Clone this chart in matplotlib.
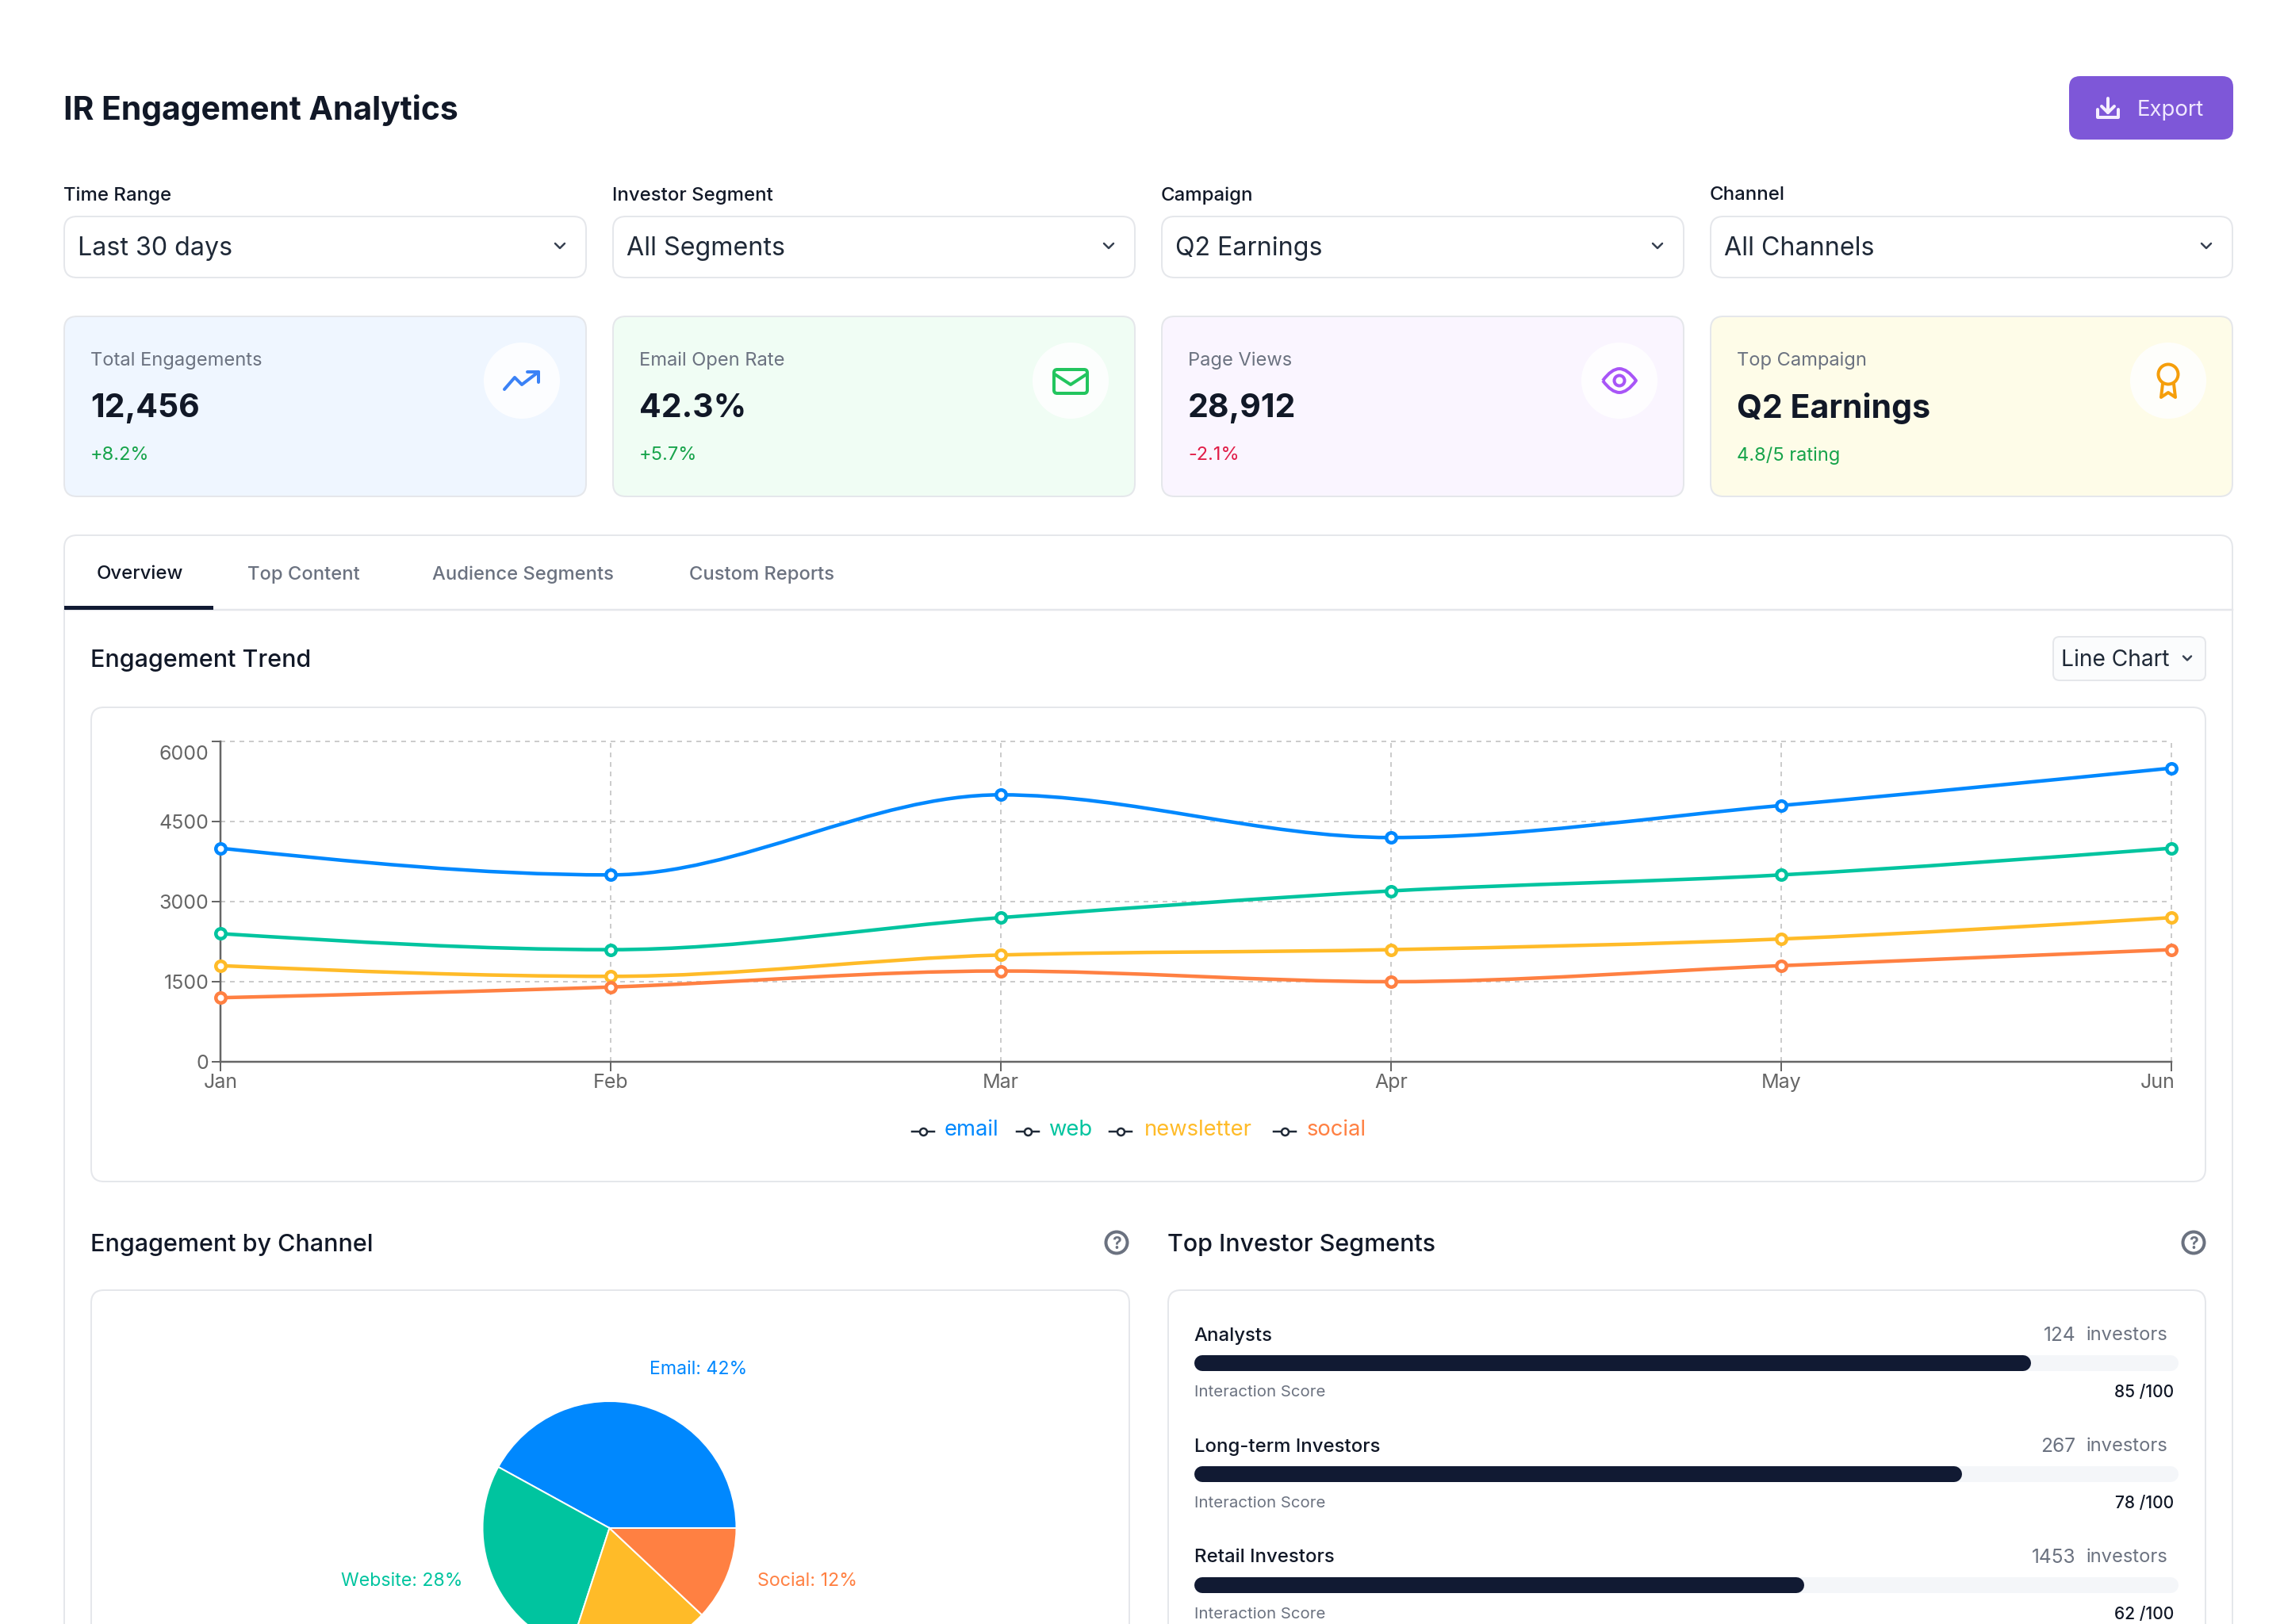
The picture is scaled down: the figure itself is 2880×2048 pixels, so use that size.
"""IR engagement dashboard redrawn with matplotlib. Output: out.png"""
import numpy as np
import matplotlib
matplotlib.use('Agg')
import matplotlib.pyplot as plt
from matplotlib.patches import FancyBboxPatch, Circle, Rectangle, PathPatch
from matplotlib.path import Path
from matplotlib.transforms import ScaledTranslation

plt.rcParams['font.family'] = ['Inter', 'DejaVu Sans']

W, H = 2880, 2048

# ---- data ----
months = ['Jan', 'Feb', 'Mar', 'Apr', 'May', 'Jun']
email = [4000, 3500, 5000, 4200, 4800, 5500]
web = [2400, 2100, 2700, 3200, 3500, 4000]
newsletter = [1800, 1600, 2000, 2100, 2300, 2700]
social = [1200, 1400, 1700, 1500, 1800, 2100]
y_ticks = [0, 1500, 3000, 4500, 6000]

channels = ['Email', 'Website', 'Newsletter', 'Social']
channel_share = [42, 28, 18, 12]

segments = ['Analysts', 'Long-term Investors', 'Retail Investors']
segment_counts = [124, 267, 1453]
segment_scores = [85, 78, 62]

filter_labels = ['Time Range', 'Investor Segment', 'Campaign', 'Channel']
filter_values = ['Last 30 days', 'All Segments', 'Q2 Earnings', 'All Channels']
kpi_labels = ['Total Engagements', 'Email Open Rate', 'Page Views', 'Top Campaign']
kpi_values = ['12,456', '42.3%', '28,912', 'Q2 Earnings']
kpi_notes = ['+8.2%', '+5.7%', '-2.1%', '4.8/5 rating']
tabs = ['Overview', 'Top Content', 'Audience Segments', 'Custom Reports']

BLUE, GREEN, YELLOW, ORANGE = '#0088FE', '#00C49F', '#FFBB28', '#FF8042'
INK = '#111827'
GRAY = '#6b7280'
BORDER = '#e5e7eb'


def pt(px):
    # figure is 100 dpi, so sizes given in pixels go through this
    return px * 0.72


fig = plt.figure(figsize=(W / 100, H / 100), dpi=100, facecolor='white')
ui = fig.add_axes([0, 0, 1, 1])
ui.set_xlim(0, W)
ui.set_ylim(H, 0)
ui.set_axis_off()


def px_axes(left, top, right, bottom):
    a = fig.add_axes([left / W, 1 - bottom / H, (right - left) / W, (bottom - top) / H])
    a.patch.set_alpha(0)
    return a


def box(x0, y0, x1, y1, r=16, fc='white', ec=BORDER, lw=2):
    ui.add_patch(FancyBboxPatch((x0, y0), x1 - x0, y1 - y0, boxstyle=f'round,pad=0,rounding_size={r}',
                                fc=fc, ec=ec, lw=pt(lw)))


def label(x, y, s, px, color=INK, weight=400, ha='left'):
    ui.text(x, y, s, fontsize=pt(px), color=color, fontweight=weight, ha=ha, va='center_baseline')


def stroke(xs, ys, color, lw=4):
    ui.plot(xs, ys, color=color, lw=pt(lw), solid_capstyle='round', solid_joinstyle='round')


def chevron(x, y, color='#374151', size=6):
    stroke([x - size, x, x + size], [y - size / 2, y + size / 2, y - size / 2], color, lw=2.5)


def help_icon(x, y):
    ui.add_patch(Circle((x, y), 13.5, fc='none', ec=GRAY, lw=pt(4)))
    label(x, y, '?', 21, color=GRAY, weight=700, ha='center')


# ---- header ----
label(80, 135, 'IR Engagement Analytics', 40.9, weight=700)
box(2609, 96, 2816, 176, r=14, fc='#7e57d8', ec='#7e57d8', lw=0)
stroke([2658, 2658], [124, 142], '#f5efff', lw=4)
stroke([2650, 2658, 2666], [134, 142, 134], '#f5efff', lw=4)
stroke([2645, 2645, 2671, 2671], [138, 148, 148, 138], '#f5efff', lw=4)
label(2695, 136, 'Export', 27.6, color='#f0e8ff')

# ---- filters and KPI cards ----
col_x = [81, 773, 1465, 2157]
col_w = 658
card_fill = ['#eff6ff', '#f0fdf4', '#faf5ff', '#fefce8']
for i, x in enumerate(col_x):
    label(x - 1, 244, filter_labels[i], 24, weight=500)
    box(x, 273, x + col_w, 350)
    label(x + 17, 310, filter_values[i], 32.2, color='#1f2937')
    chevron(x + 625, 310)

    box(x, 399, x + col_w, 626, fc=card_fill[i])
    label(x + 33, 452.5, kpi_labels[i], 23.7, color=GRAY)
    label(x + 33, 511, kpi_values[i], 41, weight=700)
    note_color = '#e11d48' if kpi_notes[i].startswith('-') else '#16a34a'
    label(x + 33, 572, kpi_notes[i], 23.6, color=note_color)
    ui.add_patch(Circle((x + 577, 480), 48, fc='white', ec='none', alpha=0.85))

# KPI icons
ic = '#3b82f6'
stroke([636, 649, 658, 679], [491, 476, 485, 469], ic)
stroke([665, 679, 679], [469, 469, 482], ic)
ic = '#22c55e'
box(1329, 466, 1371, 496, r=4, fc='none', ec=ic, lw=4)
stroke([1330, 1350, 1370], [472, 485, 472], ic)
ic = '#a855f7'
eye = Path([(2021, 480), (2032, 465), (2042, 465), (2052, 465), (2063, 480),
            (2052, 495), (2042, 495), (2032, 495), (2021, 480)],
           [Path.MOVETO, Path.CURVE3, Path.CURVE3, Path.CURVE3, Path.CURVE3,
            Path.CURVE3, Path.CURVE3, Path.CURVE3, Path.CURVE3])
ui.add_patch(PathPatch(eye, fc='none', ec=ic, lw=pt(4), joinstyle='round'))
ui.add_patch(Circle((2042, 480), 6.5, fc='none', ec=ic, lw=pt(4)))
ic = '#f59e0b'
ui.add_patch(Circle((2734, 472), 12.5, fc='none', ec=ic, lw=pt(4)))
stroke([2727, 2725, 2734, 2743, 2741], [484, 501, 495, 501, 484], ic)

# ---- tabbed panel, runs off the bottom of the picture ----
box(81, 675, 2815, 2200)
ui.plot([81, 2815], [769, 769], color=BORDER, lw=pt(2.5))
ui.add_patch(Rectangle((81, 764), 188, 5, fc='#111a33', ec='none', zorder=3))
tab_x = [122, 312, 545, 869]
for i, x in enumerate(tab_x):
    if i == 0:
        label(x, 721, tabs[i], 24, weight=500)
    else:
        label(x, 722.5, tabs[i], 23.8, color=GRAY, weight=500)

label(114, 830, 'Engagement Trend', 30.4, weight=500)
box(2589, 803, 2781, 858, r=8, fc='#fbfcfd')
label(2599, 830, 'Line Chart', 28.2, color='#1f2937')
chevron(2758, 830, size=5)
box(115, 892, 2781, 1490)


# ---- line chart ----
def monotone_path(xs, ys):
    # same curve the source chart uses (monotone cubic through the points)
    xs, ys = np.asarray(xs, float), np.asarray(ys, float)
    s = np.diff(ys) / np.diff(xs)
    m = np.zeros(len(xs))
    for i in range(1, len(xs) - 1):
        p = (s[i - 1] + s[i]) / 2
        m[i] = (np.sign(s[i - 1]) + np.sign(s[i])) * min(abs(s[i - 1]), abs(s[i]), 0.5 * abs(p))
    m[0] = (3 * s[0] - m[1]) / 2
    m[-1] = (3 * s[-1] - m[-2]) / 2
    verts, codes = [(xs[0], ys[0])], [Path.MOVETO]
    for i in range(len(xs) - 1):
        h = xs[i + 1] - xs[i]
        verts += [(xs[i] + h / 3, ys[i] + m[i] * h / 3),
                  (xs[i + 1] - h / 3, ys[i + 1] - m[i + 1] * h / 3),
                  (xs[i + 1], ys[i + 1])]
        codes += [Path.CURVE4] * 3
    return Path(verts, codes)


ax = px_axes(278, 935, 2738, 1339)
x_idx = np.arange(len(months))
ax.set_xlim(0, 5)
ax.set_ylim(0, 6000)
ax.set_xticks(x_idx, months)
ax.set_yticks(y_ticks)
ax.grid(True, color='#cccccc', lw=pt(2), linestyle=(0, (3, 3)))
ax.set_axisbelow(True)
for line in ax.get_xgridlines() + ax.get_ygridlines():
    line.set_clip_on(False)
ax.spines['top'].set_visible(False)
ax.spines['right'].set_visible(False)
for side in ('left', 'bottom'):
    ax.spines[side].set_color('#666666')
    ax.spines[side].set_linewidth(pt(2.5))
ax.tick_params(axis='x', length=pt(12), width=pt(2), color='#666666', labelcolor='#666666',
               labelsize=pt(25), pad=pt(3))
ax.tick_params(axis='y', length=pt(11), width=pt(2), color='#666666', labelcolor='#666666',
               labelsize=pt(25), pad=pt(3.5))
# first and last labels are pushed inside the chart in the reference
top_label = ax.get_yticklabels()[-1]
top_label.set_transform(top_label.get_transform() + ScaledTranslation(0, -14 / 100, fig.dpi_scale_trans))
end_label = ax.get_xticklabels()[-1]
end_label.set_ha('right')
end_label.set_transform(end_label.get_transform() + ScaledTranslation(4 / 100, 0, fig.dpi_scale_trans))

series = [('email', email, BLUE), ('web', web, GREEN), ('newsletter', newsletter, YELLOW), ('social', social, ORANGE)]
for name, vals, color in series:
    ax.add_patch(PathPatch(monotone_path(x_idx, vals), fc='none', ec=color, lw=pt(4.5), clip_on=False))
    ax.plot(x_idx, vals, ls='none', marker='o', ms=pt(12.5), mfc='white', mec=color, mew=pt(4.5), clip_on=False, zorder=4)

# legend row under the chart
legend_icon_x = [1164, 1296, 1413, 1620]
legend_text_x = [1191, 1322, 1443, 1648]
for i, (name, vals, color) in enumerate(series):
    x = legend_icon_x[i]
    ui.plot([x - 14, x + 14], [1427, 1427], color='#1f2937', lw=pt(2.5))
    ui.plot([x], [1427], marker='o', ms=pt(9), mfc='white', mec='#1f2937', mew=pt(2.5))
    label(legend_text_x[i], 1422, name, 27.4, color=color)

# ---- lower panels ----
label(114, 1567, 'Engagement by Channel', 30.5, weight=500)
label(1472, 1567, 'Top Investor Segments', 30.4, weight=500)
help_icon(1408, 1567)
help_icon(2766, 1567)
box(115, 1627, 1424, 2200)
box(1473, 1627, 2781, 2200)

pie_ax = px_axes(768.5 - 160, 1927 - 160, 768.5 + 160, 1927 + 160)
pie_ax.pie(channel_share, colors=[BLUE, GREEN, YELLOW, ORANGE], radius=1, startangle=0, counterclock=True,
           wedgeprops={'edgecolor': 'white', 'linewidth': pt(2)})
pie_ax.set_xlim(-1, 1)
pie_ax.set_ylim(-1, 1)
label(819, 1724.5, f'{channels[0]}: {channel_share[0]}%', 23.1, color=BLUE)
label(430, 1992, f'{channels[1]}: {channel_share[1]}%', 23.1, color=GREEN)
label(955, 1992, f'{channels[3]}: {channel_share[3]}%', 23.3, color=ORANGE)

# score bars: one row per segment, 140 px apart
bar_ax = px_axes(1506, 1649, 2747, 2069)
bar_ax.set_xlim(0, 100)
bar_ax.set_ylim(2.5, -0.5)
bar_ax.set_axis_off()
cap = 10 * 100 / 1241
for i, score in enumerate(segment_scores):
    bar_ax.plot([cap, 100 - cap], [i, i], color='#f4f6f9', lw=pt(20), solid_capstyle='round')
    bar_ax.plot([cap, score - cap], [i, i], color='#111a33', lw=pt(20), solid_capstyle='round')
    y = 1682 + 140 * i
    label(1505.5, y, segments[i], 24, weight=500)
    label(2617, y, str(segment_counts[i]), 24.5, color=GRAY, ha='right')
    label(2631, y, 'investors', 23.7, color=GRAY)
    label(1506, y + 72, 'Interaction Score', 20.4, color=GRAY)
    label(2741, y + 72, f'{score} /100', 21, color=INK, weight=500, ha='right')

fig.savefig('out.png', dpi=100, facecolor='white')
plt.close(fig)
